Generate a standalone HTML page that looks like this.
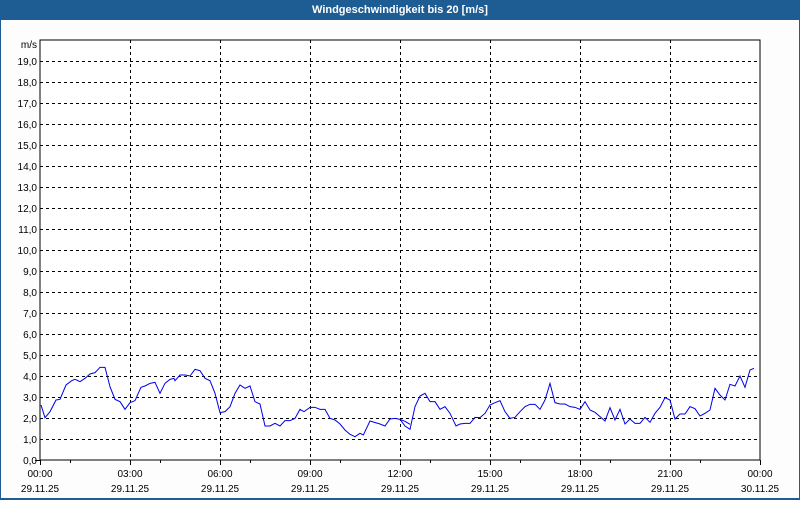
<!DOCTYPE html>
<html><head><style>
body{margin:0;width:800px;height:500px;overflow:hidden;background:#fff;font-family:"Liberation Sans",sans-serif;}
</style></head><body>
<svg width="800" height="500" xmlns="http://www.w3.org/2000/svg" font-family="Liberation Sans, sans-serif" font-size="10">
<rect x="0" y="0" width="800" height="500" fill="#1d5d94"/>
<rect x="1" y="20" width="798" height="478" fill="#fdfdfd"/>
<text x="400" y="13" fill="#fff" font-weight="bold" font-size="11" text-anchor="middle">Windgeschwindigkeit bis 20 [m/s]</text>
<rect x="40" y="40" width="720" height="420" fill="#fff" stroke="#000" stroke-width="1"/>
<g stroke="#000" stroke-dasharray="3,3" stroke-width="1">
<path d="M40 61.5H760M40 82.5H760M40 103.5H760M40 124.5H760M40 145.5H760M40 166.5H760M40 187.5H760M40 208.5H760M40 229.5H760M40 250.5H760M40 271.5H760M40 292.5H760M40 313.5H760M40 334.5H760M40 355.5H760M40 376.5H760M40 397.5H760M40 418.5H760M40 439.5H760"/>
<path d="M130.5 40V460M220.5 40V460M310.5 40V460M400.5 40V460M490.5 40V460M580.5 40V460M670.5 40V460"/>
</g>
<g stroke="#000"><path d="M40.5 460V465M130.5 460V465M220.5 460V465M310.5 460V465M400.5 460V465M490.5 460V465M580.5 460V465M670.5 460V465M760.5 460V465M70.5 460V463M160.5 460V463M250.5 460V463M340.5 460V463M430.5 460V463M520.5 460V463M610.5 460V463M700.5 460V463M35 460.5H40"/></g>
<g text-anchor="end" fill="#000">
<text x="37" y="48">m/s</text>
<text x="37" y="65">19,0</text><text x="37" y="86">18,0</text><text x="37" y="107">17,0</text><text x="37" y="128">16,0</text><text x="37" y="149">15,0</text><text x="37" y="170">14,0</text><text x="37" y="191">13,0</text><text x="37" y="212">12,0</text><text x="37" y="233">11,0</text><text x="37" y="254">10,0</text><text x="37" y="275">9,0</text><text x="37" y="296">8,0</text><text x="37" y="317">7,0</text><text x="37" y="338">6,0</text><text x="37" y="359">5,0</text><text x="37" y="380">4,0</text><text x="37" y="401">3,0</text><text x="37" y="422">2,0</text><text x="37" y="443">1,0</text><text x="37" y="464">0,0</text>
</g>
<g text-anchor="middle" fill="#000">
<text x="40" y="477">00:00</text><text x="130" y="477">03:00</text><text x="220" y="477">06:00</text><text x="310" y="477">09:00</text><text x="400" y="477">12:00</text><text x="490" y="477">15:00</text><text x="580" y="477">18:00</text><text x="670" y="477">21:00</text><text x="760" y="477">00:00</text>
<text x="40" y="492">29.11.25</text><text x="130" y="492">29.11.25</text><text x="220" y="492">29.11.25</text><text x="310" y="492">29.11.25</text><text x="400" y="492">29.11.25</text><text x="490" y="492">29.11.25</text><text x="580" y="492">29.11.25</text><text x="670" y="492">29.11.25</text><text x="760" y="492">30.11.25</text>
</g>
<g transform="translate(30 350) scale(0.33333)">
<polyline fill="none" stroke="#0000ee" stroke-width="1" vector-effect="non-scaling-stroke" points="33,165 45,203 60,185 78,150 90,148 108,105 125,92 135,88 150,95 165,85 180,72 195,68 210,52 225,52 240,110 255,148 270,155 285,178 300,158 315,152 333,112 345,108 360,100 375,97 390,130 405,100 420,88 432,85 435,92 450,75 465,75 480,78 495,58 510,62 525,85 540,92 555,130 570,188 585,185 600,170 615,130 630,105 645,115 660,108 675,155 690,162 705,228 720,228 735,220 750,228 765,212 780,212 795,205 810,178 822,185 840,172 855,172 870,178 885,178 900,205 915,210 930,222 945,240 960,253 975,260 990,250 1000,255 1020,213 1050,222 1065,228 1080,207 1095,205 1110,208 1125,214 1140,223"/>
</g>
<g transform="translate(400 350) scale(0.33333)">
<polyline fill="none" stroke="#0000ee" stroke-width="1" vector-effect="non-scaling-stroke" points="0,208 15,228 30,238 45,170 60,138 75,130 90,155 105,155 120,178 135,170 150,190 168,228 180,222 195,220 210,220 225,202 240,203 255,190 270,165 285,158 300,152 315,185 330,205 345,202 360,185 375,170 390,163 405,163 420,178 435,150 450,100 465,158 480,162 495,162 510,170 525,172 540,178 555,155 570,180 585,187 600,200 615,213 630,173 645,210 660,178 675,222 690,207 705,220 720,220 735,202 750,217 765,190 780,172 795,143 810,150 825,207 840,192 855,192 870,170 885,176 900,198 915,190 930,180 945,115 960,135 975,150 990,103 1005,108 1020,78 1035,112 1050,60 1062,55"/>
</g>
</svg>
</body></html>
